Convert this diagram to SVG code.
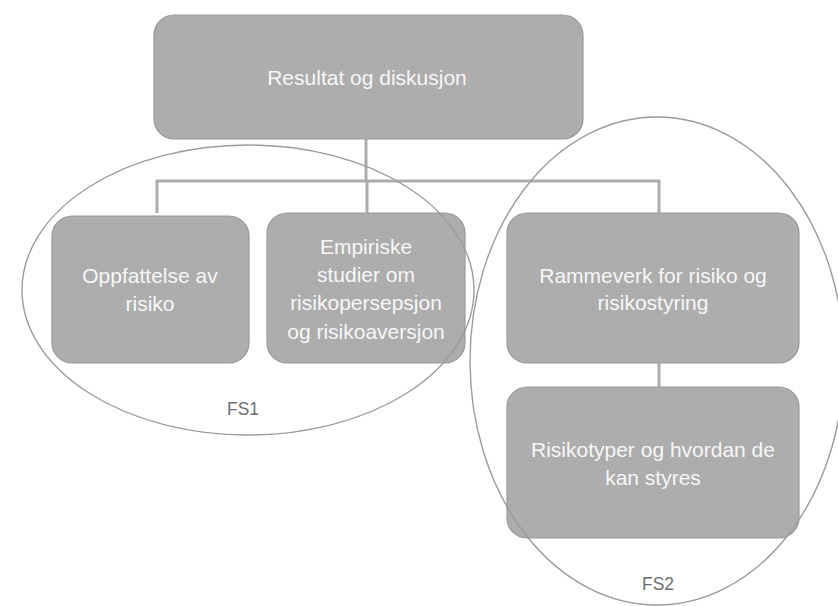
<svg xmlns="http://www.w3.org/2000/svg" width="838" height="606" viewBox="0 0 838 606">
  <style>
    .box { fill: #adadad; stroke: #9a9a9a; stroke-width: 1.2; }
    .label { font-family: "Liberation Sans", Arial, sans-serif; font-size: 21px; fill: #f7f7f7; text-anchor: middle; }
    .link { fill: none; stroke: #acacac; stroke-width: 3; }
    .group { fill: none; stroke: #9c9c9c; stroke-width: 1.4; }
    .tag { font-family: "Liberation Sans", Arial, sans-serif; font-size: 17.5px; fill: #6e6e6e; text-anchor: middle; }
  </style>
  <rect width="838" height="606" fill="#ffffff"/>

  <!-- tree connectors -->
  <g id="connectors">
    <path class="link" d="M366 139 V181"/>
    <path class="link" d="M157 213 V181 H659 V213"/>
    <path class="link" d="M367 181 V213"/>
    <path class="link" d="M659 363 V387"/>
  </g>

  <g id="node-root">
    <rect class="box" x="154" y="15" width="429" height="124" rx="20"/>
    <text class="label" x="367" y="85">Resultat og diskusjon</text>
  </g>

  <g id="node-oppfattelse">
    <rect class="box" x="52" y="216" width="197" height="147" rx="20"/>
    <text class="label" x="150" y="283">Oppfattelse av</text>
    <text class="label" x="150" y="311">risiko</text>
  </g>

  <g id="node-empiriske">
    <rect class="box" x="267" y="213" width="198" height="150" rx="20"/>
    <text class="label" x="366" y="254">Empiriske</text>
    <text class="label" x="366" y="282">studier om</text>
    <text class="label" x="366" y="310">risikopersepsjon</text>
    <text class="label" x="366" y="339">og risikoaversjon</text>
  </g>

  <g id="node-rammeverk">
    <rect class="box" x="507" y="213" width="292" height="150" rx="20"/>
    <text class="label" x="653" y="283">Rammeverk for risiko og</text>
    <text class="label" x="653" y="310">risikostyring</text>
  </g>

  <g id="node-risikotyper">
    <rect class="box" x="507" y="387" width="292" height="151" rx="20"/>
    <text class="label" x="653" y="457">Risikotyper og hvordan de</text>
    <text class="label" x="653" y="485">kan styres</text>
  </g>

  <!-- grouping ellipses -->
  <g id="group-fs1">
    <ellipse class="group" cx="248" cy="290" rx="226" ry="145"/>
    <text class="tag" x="243" y="415">FS1</text>
  </g>
  <g id="group-fs2">
    <ellipse class="group" cx="657" cy="361" rx="187" ry="244"/>
    <text class="tag" x="658" y="590">FS2</text>
  </g>
</svg>
